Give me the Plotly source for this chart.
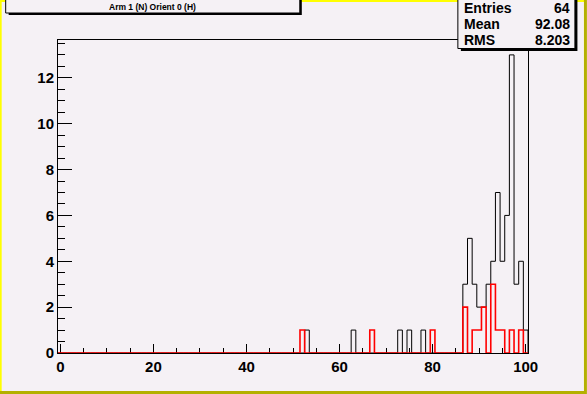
import numpy as np
import plotly.graph_objects as go

# ---- data ----
bin_centers = list(range(0, 101))           # 101 bins of width 1, range -0.5 .. 100.5
black_bins = [53, 63, 73, 75, 78, 87, 88, 89, 90, 91, 92, 93, 94, 95, 96, 97, 98, 99, 100]
black_counts = [1, 1, 1, 1, 1, 3, 5, 3, 2, 2, 3, 4, 7, 4, 6, 13, 3, 4, 1]
red_bins = [52, 67, 80, 87, 89, 90, 91, 93, 94, 95, 97, 99]
red_counts = [1, 1, 1, 2, 1, 1, 2, 3, 1, 1, 1, 1]
title_text = "Arm 1 (N) Orient 0 (H)"
stats_labels = ["Entries", "Mean", "RMS"]
stats_values = ["64", "92.08", "8.203"]
x_ticks = [0, 20, 40, 60, 80, 100]
y_ticks = [0, 2, 4, 6, 8, 10, 12]

# ---- layout geometry ----
W, H = 587, 394
L, R, T, B = 58.3, 587 - 528.1, 40, 41
PW, PH = W - L - R, H - T - B
BG = "#f5f1f5"


def px2x(px):
    return (px - L) / PW


def py2y(py):
    return (H - B - py) / PH


def step_xy(bins, counts):
    full = np.zeros(len(bin_centers))
    for b, c in zip(bins, counts):
        full[bin_centers.index(b)] = c
    edges = np.arange(bin_centers[0] - 0.5, bin_centers[-1] + 1.5)
    xs = [edges[0]] + list(edges) + [edges[-1]]
    ys = [0] + list(full) + [full[-1], 0]
    return xs, ys


fig = go.Figure()
bx, by = step_xy(black_bins, black_counts)
rx, ry = step_xy(red_bins, red_counts)
fig.add_trace(go.Scatter(x=bx, y=by, mode="lines", line=dict(color="black", width=1, shape="hv"),
                         hoverinfo="skip", showlegend=False))
fig.add_trace(go.Scatter(x=rx, y=ry, mode="lines", line=dict(color="#ff0000", width=1.6, shape="hv"),
                         hoverinfo="skip", showlegend=False))

tickfont = dict(family="Liberation Sans", size=15, color="black", weight="bold")

fig.update_layout(
    width=W, height=H,
    margin=dict(l=L, r=R, t=T, b=B, pad=0, autoexpand=False),
    paper_bgcolor=BG, plot_bgcolor=BG,
    showlegend=False,
    xaxis=dict(range=[bin_centers[0] - 0.5, bin_centers[-1] + 0.5], tickvals=x_ticks,
               ticks="inside", ticklen=9, tickwidth=1, tickcolor="black",
               minor=dict(dtick=5, ticks="inside", ticklen=5, tickcolor="black", tickwidth=1),
               showline=True, linecolor="black", linewidth=1, mirror=True,
               showgrid=False, zeroline=False, tickfont=tickfont, layer="below traces"),
    yaxis=dict(range=[0, 13.65], tickvals=y_ticks,
               ticks="inside", ticklen=14, tickwidth=1, tickcolor="black",
               minor=dict(dtick=0.5, ticks="inside", ticklen=7, tickcolor="black", tickwidth=1),
               showline=True, linecolor="black", linewidth=1, mirror=True,
               showgrid=False, zeroline=False, tickfont=tickfont, layer="below traces"),
)

shapes = []
# canvas bevel border
shapes.append(dict(type="rect", xref="paper", yref="paper", x0=px2x(0), x1=px2x(W), y0=py2y(H), y1=py2y(0),
                   line=dict(width=0), fillcolor="#b4b000", layer="below"))
shapes.append(dict(type="rect", xref="paper", yref="paper", x0=px2x(0), x1=px2x(W - 3), y0=py2y(H - 3), y1=py2y(0),
                   line=dict(width=0), fillcolor="#ffff00", layer="below"))
shapes.append(dict(type="rect", xref="paper", yref="paper", x0=px2x(2), x1=px2x(W - 3), y0=py2y(H - 3), y1=py2y(2),
                   line=dict(width=0), fillcolor=BG, layer="below"))
# title box with shadow
shapes.append(dict(type="rect", xref="paper", yref="paper", x0=px2x(9), x1=px2x(302), y0=py2y(15), y1=py2y(-5),
                   line=dict(width=0), fillcolor="black", layer="above"))
shapes.append(dict(type="rect", xref="paper", yref="paper", x0=px2x(6), x1=px2x(300), y0=py2y(13), y1=py2y(-5),
                   line=dict(color="black", width=1), fillcolor=BG, layer="above"))
# stats box with shadow
shapes.append(dict(type="rect", xref="paper", yref="paper", x0=px2x(461), x1=px2x(577.5), y0=py2y(51), y1=py2y(-5),
                   line=dict(width=0), fillcolor="black", layer="above"))
shapes.append(dict(type="rect", xref="paper", yref="paper", x0=px2x(458), x1=px2x(575), y0=py2y(48.5), y1=py2y(-5),
                   line=dict(color="black", width=1), fillcolor=BG, layer="above"))
fig.update_layout(shapes=shapes)

ann = []
ann.append(dict(text=title_text, xref="paper", yref="paper", x=px2x(153), y=py2y(7), showarrow=False,
                xanchor="center", yanchor="middle",
                font=dict(family="Liberation Sans", size=8.5, color="black", weight="bold")))
row_y = [8, 24, 40]
for lab, val, ry_ in zip(stats_labels, stats_values, row_y):
    ann.append(dict(text=lab, xref="paper", yref="paper", x=px2x(462), y=py2y(ry_), showarrow=False,
                    xanchor="left", yanchor="middle",
                    font=dict(family="Liberation Sans", size=14, color="black", weight="bold")))
    ann.append(dict(text=val, xref="paper", yref="paper", x=px2x(572), y=py2y(ry_), showarrow=False,
                    xanchor="right", yanchor="middle",
                    font=dict(family="Liberation Sans", size=14, color="black", weight="bold")))
fig.update_layout(annotations=ann)

fig.write_html("out.html", config={"displayModeBar": False},
               post_script="document.body.style.margin='0';document.body.style.overflow='hidden';")
